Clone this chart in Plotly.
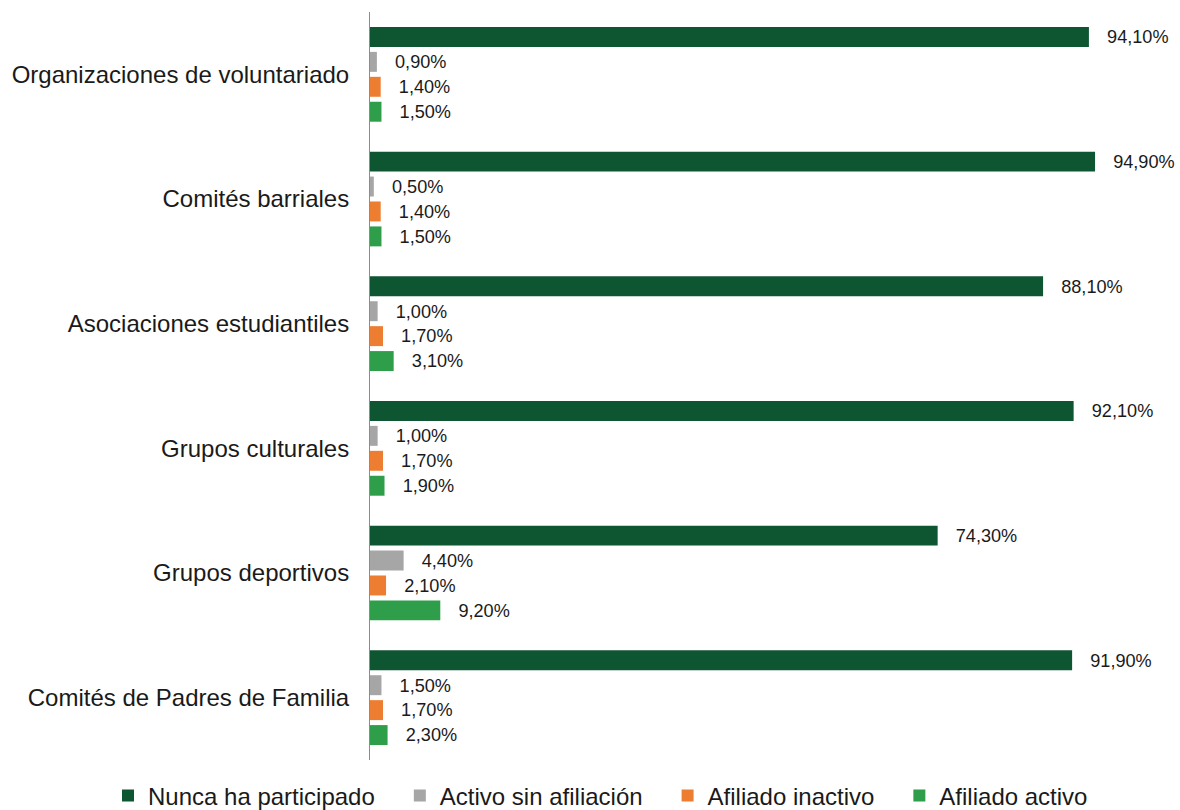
import plotly.graph_objects as go

categorias = ["Organizaciones de voluntariado", "Comités barriales", "Asociaciones estudiantiles",
              "Grupos culturales", "Grupos deportivos", "Comités de Padres de Familia"]

nunca = [94.1, 94.9, 88.1, 92.1, 74.3, 91.9]
activo_sin = [0.9, 0.5, 1.0, 1.0, 4.4, 1.5]
afil_inactivo = [1.4, 1.4, 1.7, 1.7, 2.1, 1.7]
afil_activo = [1.5, 1.5, 3.1, 1.9, 9.2, 2.3]

series = [
    ("Nunca ha participado", nunca, "#0E5532"),
    ("Activo sin afiliación", activo_sin, "#A6A6A6"),
    ("Afiliado inactivo", afil_inactivo, "#ED7D31"),
    ("Afiliado activo", afil_activo, "#2F9E4A"),
]

sp = "\u00a0"

def etiqueta(v):
    return sp * 3 + f"{v:.2f}".replace(".", ",") + "%"

fig = go.Figure()
for i, (nombre, vals, color) in enumerate(series):
    # espacios al final para separar las entradas de la leyenda
    nombre_ley = nombre + (sp * 3 if i < len(series) - 1 else "")
    fig.add_trace(go.Bar(
        y=categorias, x=vals, name=nombre_ley, orientation="h",
        marker_color=color, marker_line_width=0,
        text=[etiqueta(v) for v in vals], textposition="outside",
        textfont=dict(size=20, color="#1a1a1a"), cliponaxis=False,
    ))

fig.update_layout(
    width=1180, height=810,
    barmode="group", bargap=0.2, bargroupgap=0.2,
    plot_bgcolor="white", paper_bgcolor="white",
    font=dict(family="Liberation Sans, Arial, sans-serif", color="#1a1a1a"),
    margin=dict(l=370, r=46, t=12, b=50, autoexpand=False),
    showlegend=True,
    legend=dict(orientation="h",
                x=(108 - 370) / 764, xanchor="left",
                y=-(796 - 760) / 748, yanchor="middle", font=dict(size=24),
                traceorder="normal", itemwidth=30),
    uniformtext=dict(mode=False),
)
fig.update_xaxes(range=[0, 100], showgrid=False, zeroline=False,
                 showticklabels=False, showline=False)
fig.update_yaxes(autorange="reversed", showgrid=False, showline=True,
                 linecolor="#8c8c8c", linewidth=1, ticks="",
                 tickfont=dict(size=24), ticklabelstandoff=15)

fig.write_html("out.html", config={"displayModeBar": False},
               post_script="document.body.style.margin='0';")
